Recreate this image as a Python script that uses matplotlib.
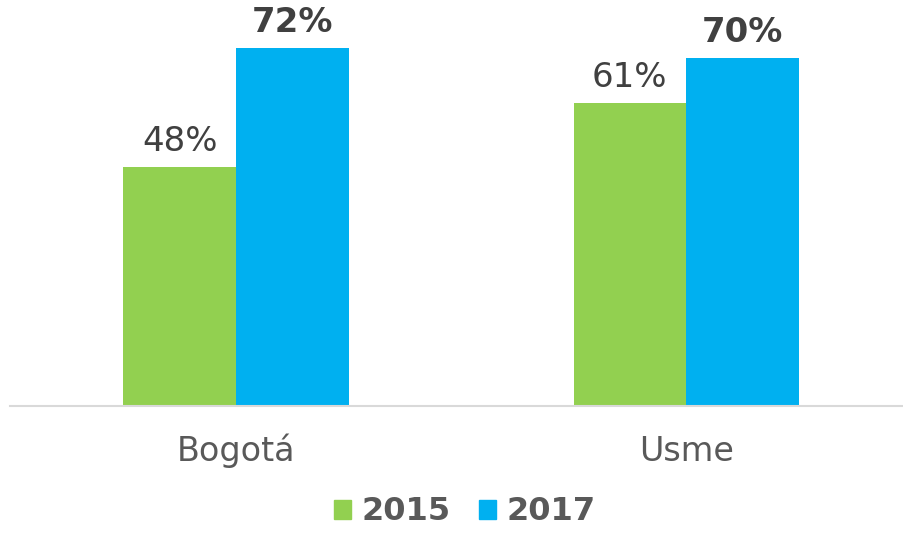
import matplotlib.pyplot as plt
import numpy as np
from matplotlib.patches import Patch

# Data
categories = ["Bogotá", "Usme"]
years = ["2015", "2017"]
values_2015 = [48, 61]
values_2017 = [72, 70]

GREEN = "#92D050"
BLUE = "#00B0F0"
TEXT = "#404040"
LABEL = "#595959"

plt.rcParams["font.family"] = ["DejaVu Sans"]

fig = plt.figure(figsize=(9.04, 5.33), dpi=100)
ax = fig.add_axes([10 / 904, 127 / 533, 894 / 904, 397.6 / 533])

x = np.arange(len(categories))
width = 0.25
b1 = ax.bar(x - width / 2, values_2015, width, color=GREEN)
b2 = ax.bar(x + width / 2, values_2017, width, color=BLUE)

# value labels: 2015 regular, 2017 bold
for bar, v in zip(b1, values_2015):
    ax.annotate(f"{v}%", (bar.get_x() + bar.get_width() / 2, bar.get_height()),
                xytext=(0, 11.5), textcoords="offset points",
                ha="center", va="baseline", fontsize=24.5, color=TEXT)
for bar, v in zip(b2, values_2017):
    ax.annotate(f"{v}%", (bar.get_x() + bar.get_width() / 2, bar.get_height()),
                xytext=(0, 11.5), textcoords="offset points",
                ha="center", va="baseline", fontsize=24.5, color=TEXT,
                fontweight="bold")

ax.set_xlim(-0.502, 1.484)
ax.set_ylim(0, 80)
ax.set_xticks(x)
ax.set_xticklabels(categories, fontsize=24, color=LABEL, va="baseline")
ax.tick_params(axis="x", length=0, pad=39.5)
ax.set_yticks([])
for side in ("top", "right", "left"):
    ax.spines[side].set_visible(False)
ax.spines["bottom"].set_color("#D9D9D9")
ax.spines["bottom"].set_linewidth(1.5)

handles = [Patch(color=GREEN), Patch(color=BLUE)]
fig.legend(handles, years, loc="center", bbox_to_anchor=(465 / 904, 1 - 512 / 533),
           ncol=2, frameon=False, prop={"size": 23, "weight": "bold"},
           labelcolor=LABEL, handlelength=0.53, handleheight=0.53,
           handletextpad=0.34, columnspacing=0.87, borderpad=0, borderaxespad=0)

fig.savefig("out.png", dpi=100)
